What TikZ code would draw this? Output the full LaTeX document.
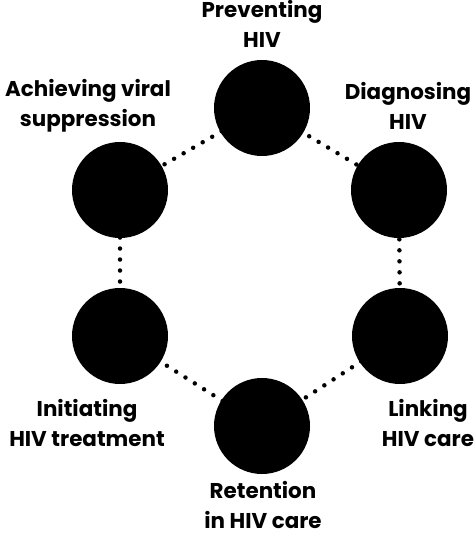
\documentclass[tikz,border=0pt]{standalone}
\usepackage{fontspec}
\setmainfont{Poppins}
\usepackage{tikz}

\begin{document}
\begin{tikzpicture}[
  x=1bp, y=-1bp,
  stage/.style={circle, fill=black, inner sep=0pt, minimum size=96bp},
  lbl/.style={align=center, anchor=north, inner sep=0pt,
    font=\fontsize{21.5}{30}\selectfont\bfseries},
  link/.style={line width=4.5bp, line cap=round, dash pattern=on 0pt off 11bp}
]
\useasboundingbox (0,0) rectangle (474,533);

% the six stages
\coordinate (cprev) at (262,108);
\coordinate (cdiag) at (399,190);
\coordinate (clink) at (400,336);
\coordinate (cret)  at (262,426);
\coordinate (cinit) at (120,336);
\coordinate (cvir)  at (120,190);

\draw[link] (cprev) -- (cdiag) -- (clink) -- (cret) -- (cinit) -- (cvir) -- cycle;

\node[stage] (prev) at (cprev) {};
\node[stage] (diag) at (cdiag) {};
\node[stage] (link) at (clink) {};
\node[stage] (ret)  at (cret)  {};
\node[stage] (init) at (cinit) {};
\node[stage] (vir)  at (cvir)  {};

% labels
\node[lbl] (lprev) at (262,0)   {Preventing\\HIV};
\node[lbl] (ldiag) at (408,82)  {Diagnosing\\HIV};
\node[lbl] (lvir)  at (88,79)   {Achieving viral\\suppression};
\node[lbl] (llink) at (428,399) {Linking\\HIV care};
\node[lbl] (linit) at (87,399)  {Initiating\\HIV treatment};
\node[lbl] (lret)  at (263,481) {Retention\\in HIV care};

\end{tikzpicture}
\end{document}
